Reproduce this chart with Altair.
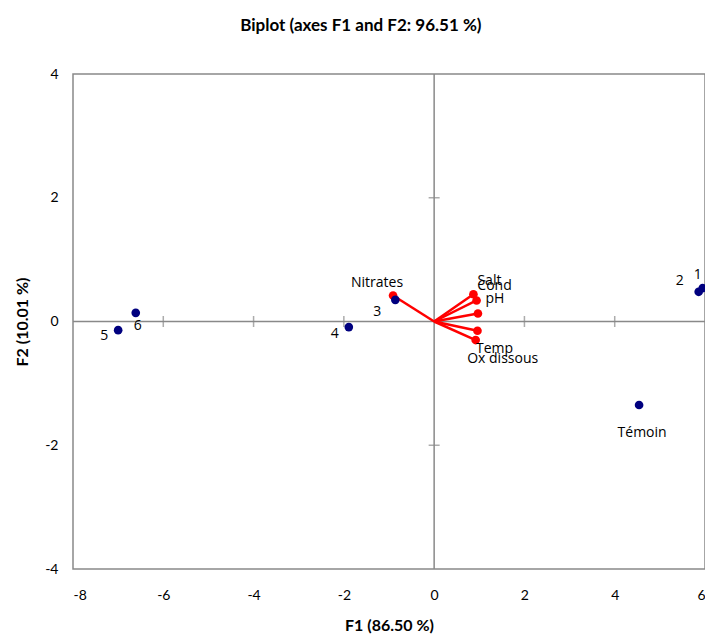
import altair as alt
import pandas as pd

# Observations (blue)
obs_names = ["1", "2", "3", "4", "5", "6", "Témoin"]
obs_f1 = [5.95, 5.86, -0.86, -1.89, -7.00, -6.61, 4.54]
obs_f2 = [0.54, 0.48, 0.35, -0.09, -0.14, 0.14, -1.35]

# Variables (red vectors)
var_names = ["Nitrates", "Salt", "Cond", "pH", "Temp", "Ox dissous"]
var_f1 = [-0.91, 0.87, 0.94, 0.97, 0.96, 0.92]
var_f2 = [0.42, 0.44, 0.34, 0.13, -0.15, -0.30]

x_ticks = [-8, -6, -4, -2, 0, 2, 4, 6]
y_ticks = [-4, -2, 0, 2, 4]
inner_x_ticks = [-6, -4, -2, 2, 4]
inner_y_ticks = [-2, 2]

# label offsets (styling)
offsets = {
    "1": (-5, -13), "2": (-19, -11), "3": (-18, 12), "4": (-14, 7),
    "5": (-14, 6), "6": (2, 13), "Témoin": (3, 28),
    "Nitrates": (-16, -13), "Salt": (16, -13), "Cond": (18, -14),
    "pH": (17, -14), "Temp": (17, 18), "Ox dissous": (27, 19),
}

obs = pd.DataFrame({"name": obs_names, "x": obs_f1, "y": obs_f2})
var = pd.DataFrame({"name": var_names, "x": var_f1, "y": var_f2,
                    "x0": [0.0] * len(var_names), "y0": [0.0] * len(var_names)})

GREY = "#898989"
xs = alt.Scale(domain=[-8, 6], nice=False, zero=False)
ys = alt.Scale(domain=[-4, 4], nice=False, zero=False)

X = alt.X("x:Q", scale=xs, axis=alt.Axis(values=x_ticks, title="F1 (86.50 %)",
                                          labelExpr="'' + datum.value",
                                          labelPadding=19, titlePadding=15))
Y = alt.Y("y:Q", scale=ys, axis=alt.Axis(values=y_ticks, title="F2 (10.01 %)",
                                          labelExpr="'' + datum.value",
                                          labelPadding=15, titlePadding=14))

zero_v = alt.Chart(pd.DataFrame({"x": [0]})).mark_rule(color=GREY, strokeWidth=1.5).encode(
    x=alt.X("x:Q", scale=xs))
zero_h = alt.Chart(pd.DataFrame({"y": [0]})).mark_rule(color=GREY, strokeWidth=1.5).encode(
    y=alt.Y("y:Q", scale=ys))
tick_x = alt.Chart(pd.DataFrame({"x": inner_x_ticks, "y": [0] * len(inner_x_ticks)})).mark_tick(
    color=GREY, thickness=1.5, size=11, orient="vertical").encode(
    x=alt.X("x:Q", scale=xs), y=alt.Y("y:Q", scale=ys))
tick_y = alt.Chart(pd.DataFrame({"x": [0] * len(inner_y_ticks), "y": inner_y_ticks})).mark_tick(
    color=GREY, thickness=1.5, size=11, orient="horizontal").encode(
    x=alt.X("x:Q", scale=xs), y=alt.Y("y:Q", scale=ys))

base_obs = alt.Chart(obs)
base_var = alt.Chart(var)

vectors = base_var.mark_rule(color="#FF0000", strokeWidth=2.5).encode(
    x=alt.X("x0:Q", scale=xs), y=alt.Y("y0:Q", scale=ys), x2="x:Q", y2="y:Q")
var_pts = base_var.mark_circle(color="#FF0000", opacity=1, size=75).encode(x=X, y=Y)
obs_pts = base_obs.mark_circle(color="#00007F", opacity=1, size=75).encode(x=X, y=Y)

labels = []
for df, names in ((obs, obs_names), (var, var_names)):
    for n in names:
        dx, dy = offsets[n]
        labels.append(
            alt.Chart(df).transform_filter(alt.datum.name == n).mark_text(
                font="Open Sans", fontSize=14, color="#000000", dx=dx, dy=dy,
                align="center", baseline="middle").encode(
                x=alt.X("x:Q", scale=xs), y=alt.Y("y:Q", scale=ys), text="name:N"))

chart = alt.layer(zero_v, zero_h, tick_x, tick_y, vectors, var_pts, obs_pts, *labels).properties(
    width=632, height=495,
    title=alt.TitleParams("Biplot (axes F1 and F2: 96.51 %)", font="Lato", fontSize=17,
                          fontWeight="bold", anchor="middle", frame="bounds", offset=32, color="#000000"),
    autosize=alt.AutoSizeParams(type="none"),
    padding={"left": 65, "top": 66, "right": 0, "bottom": 65},
).configure_view(stroke=GREY, strokeWidth=1.5).configure_axis(
    domain=False, ticks=False, grid=False, labelFont="Lato", labelFontSize=14,
    labelColor="#000000", titleFont="Lato", titleFontSize=16, titleFontWeight="bold",
    titleColor="#000000")

chart.save("out.html", embed_options={"renderer": "svg", "actions": False})
